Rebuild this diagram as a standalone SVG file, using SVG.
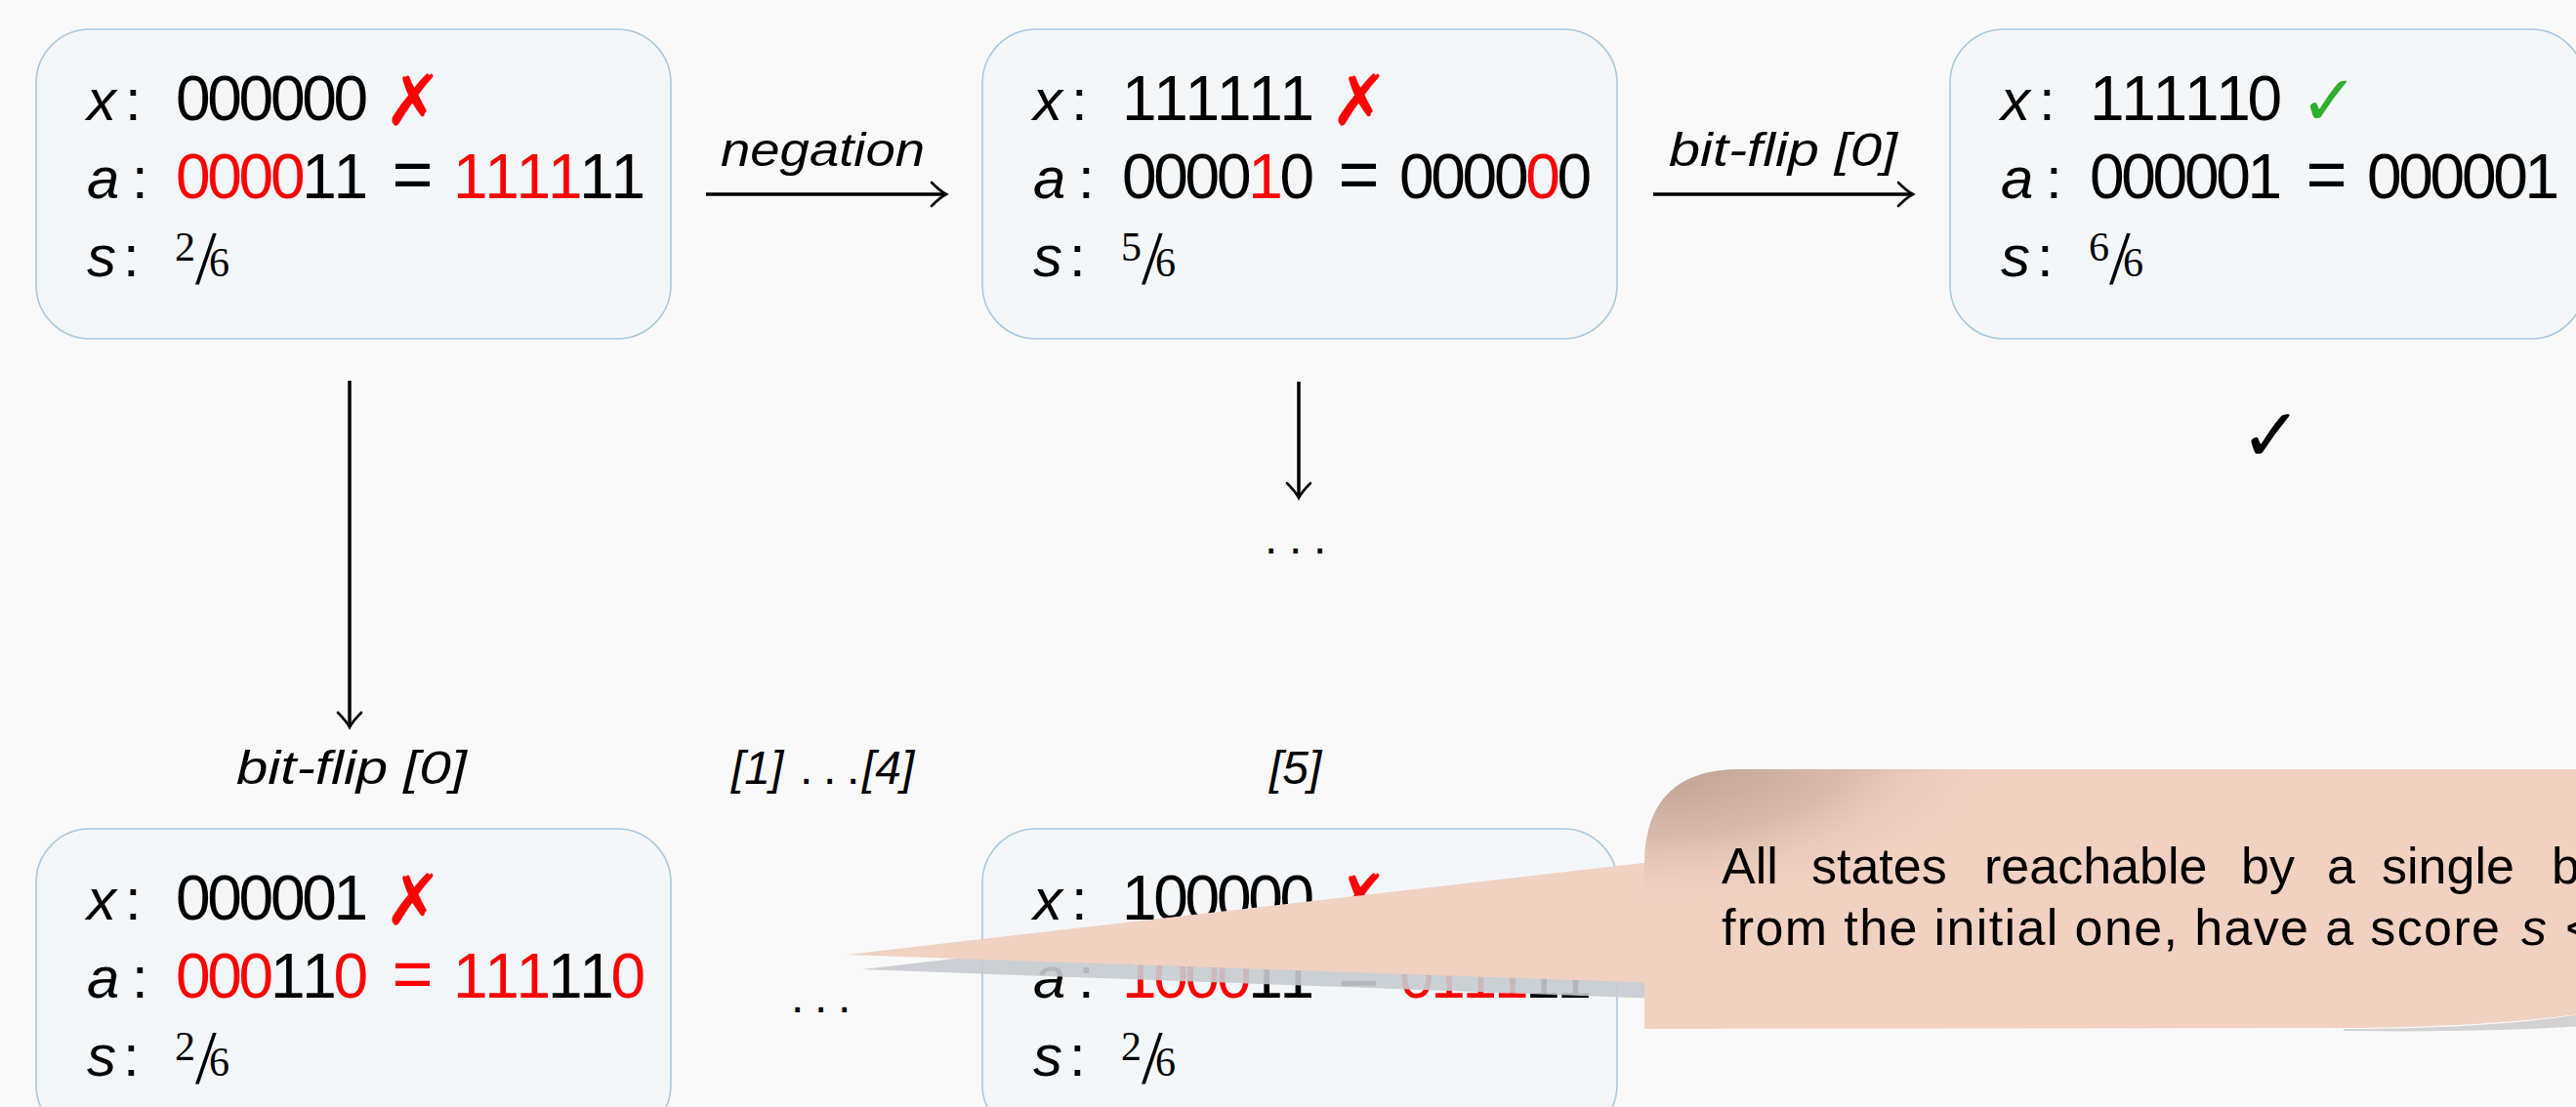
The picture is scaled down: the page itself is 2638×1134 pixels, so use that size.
<svg xmlns="http://www.w3.org/2000/svg" width="2638" height="1134" viewBox="0 0 2638 1134">
<style>
.box{fill:#F3F7FA;stroke:#A9C9DE;stroke-width:1.6}
.t{font-family:"Liberation Sans",Arial,sans-serif;fill:#000}
.lab{font-size:60px;font-style:italic}
.col{font-size:60px}
.dig{font-size:64px}
.eq{font-size:72px}
.fr{font-family:"Liberation Serif","Times New Roman",serif;font-size:42px;fill:#000}
.sl{font-family:"Liberation Serif","Times New Roman",serif;font-size:78px;fill:#000}
.r{fill:#FF0000}
.mark{font-family:"DejaVu Sans",sans-serif;font-size:72px;font-weight:bold}
.conn{stroke:#000;stroke-width:3.5;fill:none}
.elab{font-size:48px;font-style:italic}
.dots{font-size:48px}
.note{font-family:"Liberation Sans",Arial,sans-serif;font-size:52px;fill:#000}
</style>
<defs>
<marker id="ah" markerUnits="userSpaceOnUse" orient="auto" viewBox="-20 -15 24 30" refX="0" refY="0" markerWidth="24" markerHeight="30">
<path d="M-15,-12 Q-6,-3 0,0 Q-6,3 -15,12" fill="none" stroke="#000" stroke-width="2.6" stroke-linecap="round"/>
</marker>
<radialGradient id="curl" gradientUnits="userSpaceOnUse" cx="1690" cy="770" r="320" gradientTransform="translate(1690 770) scale(1.15 0.5) translate(-1690 -770)">
<stop offset="0" stop-color="#B89A8D" stop-opacity="1"/>
<stop offset="0.55" stop-color="#D3B6A8" stop-opacity="0.85"/>
<stop offset="1" stop-color="#F1D1C2" stop-opacity="0"/>
</radialGradient>
</defs>
<rect width="2638" height="1134" fill="#F9F9F9"/>

<g id="connectors">
<path class="conn" d="M723,199 H969" marker-end="url(#ah)"/>
<text class="t elab" x="738" y="170" textLength="209" lengthAdjust="spacingAndGlyphs">negation</text>
<path class="conn" d="M1693,199 H1959" marker-end="url(#ah)"/>
<text class="t elab" x="1709" y="170" textLength="234" lengthAdjust="spacingAndGlyphs">bit-flip [0]</text>
<path class="conn" d="M358,390 V745" marker-end="url(#ah)"/>
<text class="t elab" x="242" y="803" textLength="236" lengthAdjust="spacingAndGlyphs">bit-flip [0]</text>
<path class="conn" d="M1330,391 V510" marker-end="url(#ah)"/>
<text class="t dots" x="1295 1320 1345" y="567">...</text>
<text class="t elab" y="803"><tspan x="749">[1]</tspan><tspan class="dots" font-style="normal" x="819 843 867">...</tspan><tspan x="883">[4]</tspan></text>
<text class="t elab" x="1300" y="803">[5]</text>
<text class="t dots" x="810 834 858" y="1037">...</text>
<text x="2294" y="472" font-family="DejaVu Sans,sans-serif" font-size="76" fill="#000">✓</text>
</g>

<g id="n1" transform="translate(37,30)">
<rect class="box" width="650" height="317" rx="55"/>
<text class="t lab" x="52" y="93">x</text><text class="t col" x="91" y="93">:</text>
<text class="t dig" x="143 175.3 207.6 239.9 272.2 304.5" y="93">000000</text>
<text class="mark r" x="356" y="98">✗</text>
<text class="t lab" x="52" y="173">a</text><text class="t col" x="98" y="173">:</text>
<text class="t dig" y="173"><tspan class="r" x="143 175.3 207.6 239.9">0000</tspan><tspan x="272.2 304.5">11</tspan><tspan class="eq" x="364.5">=</tspan><tspan class="r" x="427 459.3 491.6 523.9">1111</tspan><tspan x="556.2 588.5">11</tspan></text>
<text class="t lab" x="52" y="253">s</text><text class="t col" x="89" y="253">:</text>
<text><tspan class="fr" x="142" y="237">2</tspan><tspan class="sl" x="163" y="260">/</tspan><tspan class="fr" x="177" y="253">6</tspan></text>
</g>

<g id="n2" transform="translate(1006,30)">
<rect class="box" width="650" height="317" rx="55"/>
<text class="t lab" x="52" y="93">x</text><text class="t col" x="91" y="93">:</text>
<text class="t dig" x="143 175.3 207.6 239.9 272.2 304.5" y="93">111111</text>
<text class="mark r" x="356" y="98">✗</text>
<text class="t lab" x="52" y="173">a</text><text class="t col" x="98" y="173">:</text>
<text class="t dig" y="173"><tspan x="143 175.3 207.6 239.9">0000</tspan><tspan class="r" x="272.2">1</tspan><tspan x="304.5">0</tspan><tspan class="eq" x="364.5">=</tspan><tspan x="427 459.3 491.6 523.9">0000</tspan><tspan class="r" x="556.2">0</tspan><tspan x="588.5">0</tspan></text>
<text class="t lab" x="52" y="253">s</text><text class="t col" x="89" y="253">:</text>
<text><tspan class="fr" x="142" y="237">5</tspan><tspan class="sl" x="163" y="260">/</tspan><tspan class="fr" x="177" y="253">6</tspan></text>
</g>

<g id="n3" transform="translate(1997,30)">
<rect class="box" width="650" height="317" rx="55"/>
<text class="t lab" x="52" y="93">x</text><text class="t col" x="91" y="93">:</text>
<text class="t dig" x="143 175.3 207.6 239.9 272.2 304.5" y="93">111110</text>
<text class="mark" x="358" y="98" fill="#2EAF2E">✓</text>
<text class="t lab" x="52" y="173">a</text><text class="t col" x="98" y="173">:</text>
<text class="t dig" y="173"><tspan x="143 175.3 207.6 239.9 272.2 304.5">000001</tspan><tspan class="eq" x="364.5">=</tspan><tspan x="427 459.3 491.6 523.9 556.2 588.5">000001</tspan></text>
<text class="t lab" x="52" y="253">s</text><text class="t col" x="89" y="253">:</text>
<text><tspan class="fr" x="142" y="237">6</tspan><tspan class="sl" x="163" y="260">/</tspan><tspan class="fr" x="177" y="253">6</tspan></text>
</g>

<g id="n4" transform="translate(37,849)">
<rect class="box" width="650" height="317" rx="55"/>
<text class="t lab" x="52" y="93">x</text><text class="t col" x="91" y="93">:</text>
<text class="t dig" x="143 175.3 207.6 239.9 272.2 304.5" y="93">000001</text>
<text class="mark r" x="356" y="98">✗</text>
<text class="t lab" x="52" y="173">a</text><text class="t col" x="98" y="173">:</text>
<text class="t dig" y="173"><tspan class="r" x="143 175.3 207.6">000</tspan><tspan x="239.9 272.2">11</tspan><tspan class="r" x="304.5">0</tspan><tspan class="eq r" x="364.5">=</tspan><tspan class="r" x="427 459.3 491.6">111</tspan><tspan x="523.9 556.2">11</tspan><tspan class="r" x="588.5">0</tspan></text>
<text class="t lab" x="52" y="253">s</text><text class="t col" x="89" y="253">:</text>
<text><tspan class="fr" x="142" y="237">2</tspan><tspan class="sl" x="163" y="260">/</tspan><tspan class="fr" x="177" y="253">6</tspan></text>
</g>

<g id="n5" transform="translate(1006,849)">
<rect class="box" width="650" height="317" rx="55"/>
<text class="t lab" x="52" y="93">x</text><text class="t col" x="91" y="93">:</text>
<text class="t dig" x="143 175.3 207.6 239.9 272.2 304.5" y="93">100000</text>
<text class="mark r" x="356" y="98">✗</text>
<text class="t lab" x="52" y="173">a</text><text class="t col" x="98" y="173">:</text>
<text class="t dig" y="173"><tspan class="r" x="143 175.3 207.6 239.9">1000</tspan><tspan x="272.2 304.5">11</tspan><tspan class="eq" x="364.5">=</tspan><tspan class="r" x="427 459.3 491.6 523.9">0111</tspan><tspan x="556.2 588.5">11</tspan></text>
<text class="t lab" x="52" y="253">s</text><text class="t col" x="89" y="253">:</text>
<text><tspan class="fr" x="142" y="237">2</tspan><tspan class="sl" x="163" y="260">/</tspan><tspan class="fr" x="177" y="253">6</tspan></text>
</g>

<g id="callout">
<polygon points="1700,897 883,993 1700,1023" fill="#C6CBCF" opacity="0.9"/>
<path d="M2400,1054 Q2560,1054 2660,1036 L2660,1050 Q2560,1058 2400,1056 Z" fill="#D2D2D2"/>
<polygon points="1700,882 867,978 1700,1007" fill="#F1D1C2"/>
<path d="M1684,1054 L1684,882 Q1686,788 1782,788 L2660,788 L2660,1036 Q2560,1052 2400,1053 Z" fill="#F1D1C2"/>
<path d="M1684,1054 L1684,882 Q1686,788 1782,788 L2660,788 L2660,1036 Q2560,1052 2400,1053 Z" fill="url(#curl)"/>
<text class="note" y="905"><tspan x="1763">All</tspan><tspan x="1855">states</tspan><tspan x="2032">reachable</tspan><tspan x="2295">by</tspan><tspan x="2383">a</tspan><tspan x="2439">single</tspan><tspan x="2613">b</tspan></text>
<text class="note" y="968"><tspan x="1763" textLength="797" lengthAdjust="spacing">from the initial one, have a score</tspan><tspan x="2582" font-style="italic">s</tspan><tspan x="2627">&lt;</tspan></text>
</g>
</svg>
